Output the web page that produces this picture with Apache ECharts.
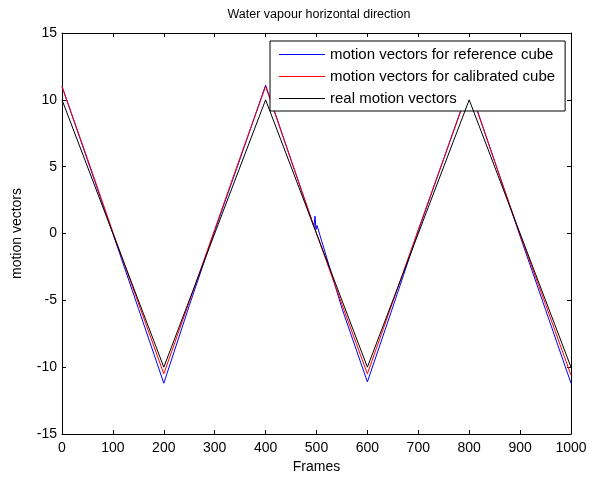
<!DOCTYPE html>
<html>
<head>
<meta charset="utf-8">
<script src="https://cdn.jsdelivr.net/npm/echarts@6/dist/echarts.min.js"></script>
<style>
  html, body { margin: 0; padding: 0; background: #fff; }
  #chart { width: 599px; height: 483px; }
</style>
</head>
<body>
<div id="chart"></div>
<script>
// Frame numbers and motion-vector values for each curve
var refFrames = [0, 50, 100, 150, 200, 250, 300, 350, 400, 450, 495, 497, 499, 501, 550, 600, 650, 700, 750, 800, 850, 900, 950, 1000];
var refValues = [11.0, 5.5, 0.0, -5.6, -11.2, -5.4, 0.2, 5.6, 11.1, 5.5, 0.5, 1.3, 0.3, 0.6, -5.6, -11.1, -5.5, 0.2, 5.6, 11.0, 5.4, -0.2, -5.7, -11.2];

var calFrames = [0, 50, 100, 150, 200, 250, 300, 350, 400, 450, 500, 550, 600, 650, 700, 750, 800, 850, 900, 950, 1000];
var calValues = [11.0, 5.6, 0.1, -5.2, -10.5, -5.1, 0.3, 5.7, 11.0, 5.5, 0.0, -5.3, -10.5, -5.1, 0.3, 5.6, 10.9, 5.4, -0.1, -5.3, -10.6];

var realFrames = [0, 200, 400, 600, 800, 1000];
var realValues = [10, -10, 10, -10, 10, -10];

var seriesNames = ['motion vectors for reference cube', 'motion vectors for calibrated cube', 'real motion vectors'];
var seriesColors = ['#0000ff', '#ff0000', '#000000'];

var xTicks = [0, 100, 200, 300, 400, 500, 600, 700, 800, 900, 1000];
var yTicks = [-15, -10, -5, 0, 5, 10, 15];

function pairs(xs, ys) {
  return xs.map(function (x, i) { return [x, ys[i]]; });
}

var FONT = 'Liberation Sans, Arial, sans-serif';
var chart = echarts.init(document.getElementById('chart'), null, { renderer: 'canvas' });

function frameAxis(extra) {
  return Object.assign({
    type: 'value',
    min: xTicks[0], max: xTicks[xTicks.length - 1], interval: 100,
    axisLine: { onZero: false, lineStyle: { color: '#000', width: 1 } },
    axisTick: { inside: true, length: 4, lineStyle: { color: '#000' } },
    splitLine: { show: false }
  }, extra);
}
function valueAxis(extra) {
  return Object.assign({
    type: 'value',
    min: yTicks[0], max: yTicks[yTicks.length - 1], interval: 5,
    axisLine: { onZero: false, lineStyle: { color: '#000', width: 1 } },
    axisTick: { inside: true, length: 4, lineStyle: { color: '#000' } },
    splitLine: { show: false }
  }, extra);
}

chart.setOption({
  animation: false,
  backgroundColor: '#fff',
  title: {
    text: 'Water vapour horizontal direction',
    left: 314, top: 3, textAlign: 'center',
    textStyle: { fontFamily: FONT, fontSize: 12.5, fontWeight: 'normal', color: '#000' }
  },
  grid: { left: 62, right: 28, top: 33, bottom: 49 },
  legend: {
    orient: 'vertical',
    left: 270, top: 41,
    padding: [6, 10, 5, 9],
    itemGap: 7,
    itemWidth: 46, itemHeight: 1,
    icon: 'rect',
    backgroundColor: '#fff',
    borderColor: '#000', borderWidth: 1,
    data: seriesNames,
    textStyle: { fontFamily: FONT, fontSize: 15, lineHeight: 15, color: '#000' }
  },
  xAxis: [
    frameAxis({ position: 'bottom',
      name: 'Frames', nameLocation: 'middle', nameGap: 26,
      nameTextStyle: { fontFamily: FONT, fontSize: 14, color: '#000' },
      axisLabel: { fontFamily: FONT, fontSize: 14, color: '#000', margin: 7,
        formatter: function (v) { return String(v); } } }),
    frameAxis({ position: 'top', axisLabel: { show: false } })
  ],
  yAxis: [
    valueAxis({ position: 'left',
      name: 'motion vectors', nameLocation: 'middle', nameGap: 38, nameRotate: 90,
      nameTextStyle: { fontFamily: FONT, fontSize: 14, color: '#000' },
      axisLabel: { fontFamily: FONT, fontSize: 14, color: '#000', margin: 5 } }),
    valueAxis({ position: 'right', axisLabel: { show: false } })
  ],
  series: [
    { name: seriesNames[0], data: pairs(refFrames, refValues) },
    { name: seriesNames[1], data: pairs(calFrames, calValues) },
    { name: seriesNames[2], data: pairs(realFrames, realValues) }
  ].map(function (s, i) {
    return {
      name: s.name, type: 'line', data: s.data,
      showSymbol: false, symbol: 'none',
      itemStyle: { color: seriesColors[i] },
      lineStyle: { color: seriesColors[i], width: 1 },
      z: 2 + i
    };
  })
});
</script>
</body>
</html>
